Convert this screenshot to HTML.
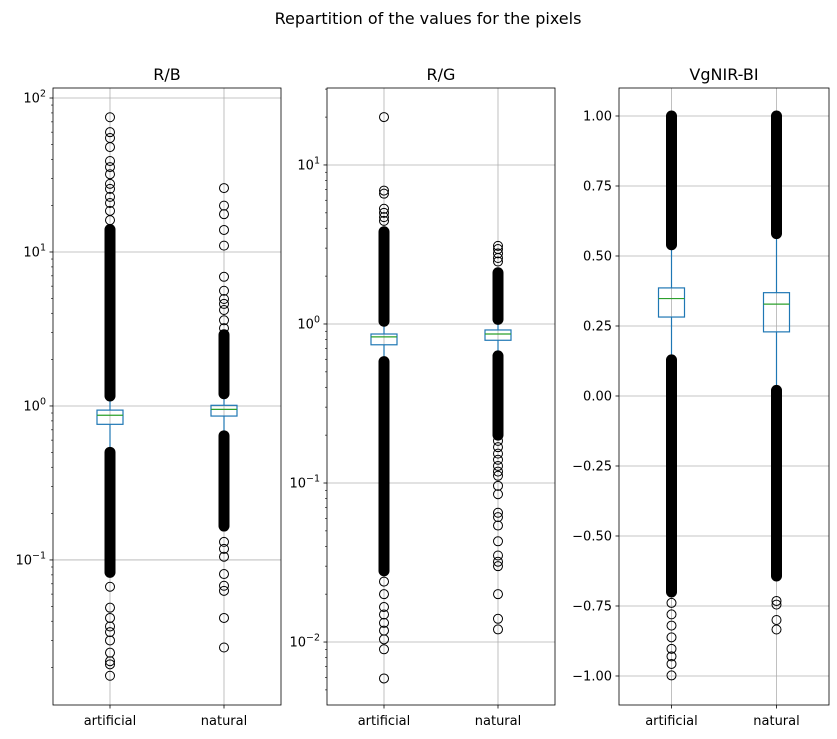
<!DOCTYPE html>
<html><head><meta charset="utf-8">
<style>
html,body{margin:0;padding:0;background:#fff;}
svg{display:block;font-family:"DejaVu Sans","Liberation Sans",sans-serif;}
</style></head>
<body>
<svg id="chart" width="837" height="739" viewBox="0 0 837 739" xmlns="http://www.w3.org/2000/svg">
<text x="428" y="24" font-size="16" text-anchor="middle" fill="#000">Repartition of the values for the pixels</text>
</svg>
<script>
// ---------- data ----------
const categories = ["artificial", "natural"];
// Panel R/B
const rbQ1 = [0.76, 0.86];
const rbMed = [0.87, 0.95];
const rbQ3 = [0.94, 1.01];
const rbBandLo = [[0.083, 0.50], [0.166, 0.64]];
const rbBandHi = [[1.16, 14], [1.2, 2.9]];
const rbOutArt = [75, 60, 55, 48, 39, 35.6, 32, 27.7, 25.7, 22.8, 20.8, 18.5, 16.1, 0.067, 0.049, 0.042, 0.037, 0.034, 0.030, 0.025, 0.022, 0.021, 0.0177];
const rbOutNat = [26, 20, 17.6, 13.9, 11, 6.9, 5.6, 4.95, 4.6, 4.2, 3.6, 3.2, 0.131, 0.118, 0.105, 0.081, 0.068, 0.063, 0.042, 0.027];
// Panel R/G
const rgQ1 = [0.74, 0.79];
const rgMed = [0.83, 0.865];
const rgQ3 = [0.865, 0.917];
const rgBandLo = [[0.028, 0.58], [0.2, 0.63]];
const rgBandHi = [[1.04, 3.8], [1.07, 2.1]];
const rgOutArt = [20, 6.9, 6.6, 5.3, 5.0, 4.7, 4.45, 0.024, 0.020, 0.0166, 0.0149, 0.0132, 0.0118, 0.0104, 0.0090, 0.0059];
const rgOutNat = [3.1, 2.96, 2.78, 2.6, 2.47, 0.184, 0.168, 0.153, 0.140, 0.128, 0.118, 0.111, 0.096, 0.085, 0.065, 0.061, 0.054, 0.043, 0.035, 0.032, 0.030, 0.020, 0.014, 0.012];
// Panel VgNIR-BI
const vgQ1 = [0.282, 0.229];
const vgMed = [0.348, 0.328];
const vgQ3 = [0.386, 0.369];
const vgBandLo = [[-0.70, 0.129], [-0.643, 0.02]];
const vgBandHi = [[0.54, 1.0], [0.58, 1.0]];
const vgOutArt = [-0.739, -0.78, -0.82, -0.862, -0.903, -0.930, -0.957, -0.998];
const vgOutNat = [-0.732, -0.745, -0.80, -0.834];
const vgTicks = [1.00, 0.75, 0.50, 0.25, 0.00, -0.25, -0.50, -0.75, -1.00];
const rbDecades = [-1, 0, 1, 2];
const rgDecades = [-2, -1, 0, 1];

// ---------- drawing ----------
const NS = "http://www.w3.org/2000/svg";
const svg = document.getElementById("chart");
function mk(tag, attrs, parent) {
  const e = document.createElementNS(NS, tag);
  for (const k in attrs) e.setAttribute(k, attrs[k]);
  (parent || svg).appendChild(e);
  return e;
}
const TOP = 88, BOT = 705;

function panel(cfg) {
  const g = mk("g", {});
  
  
  const L = cfg.left, R = cfg.right, W = R - L;
  const xs = i => L + W * (i + 0.5) / 2;
  let ys;
  if (cfg.log) {
    const a = cfg.lmin, b = cfg.lmax;
    ys = v => BOT - (Math.log10(v) - a) / (b - a) * (BOT - TOP);
  } else {
    ys = v => BOT - (v - cfg.min) / (cfg.max - cfg.min) * (BOT - TOP);
  }
  const tickVals = cfg.log ? cfg.decades.map(d => Math.pow(10, d)) : cfg.ticks;
  tickVals.forEach((v, i) => {
    const y = ys(v);
    const gl = mk("line", {x1: L, x2: R, y1: y, y2: y, stroke: "#b0b0b0", "stroke-width": 0.8}, g);
    
    
    mk("line", {x1: L - 3.5, x2: L, y1: y, y2: y, stroke: "#000", "stroke-width": 0.8}, g);
    const t = mk("text", {x: L - 7, y: y + 4.5, "font-size": 13, "text-anchor": "end", fill: "#000"}, g);
    
    
    if (cfg.log) {
      const d = cfg.decades[i];
      const b = mk("tspan", {}, t);
      b.textContent = "10";
      const s = mk("tspan", {dy: -6, "font-size": 9.5}, t);
      s.textContent = d < 0 ? "\u2212" + (-d) : String(d);
    } else {
      t.textContent = v.toFixed(2).replace("-", "\u2212");
    }
  });
  if (cfg.log) {
    for (let d = Math.floor(cfg.lmin); d <= cfg.lmax; d++) {
      for (let m = 2; m <= 9; m++) {
        const v = m * Math.pow(10, d);
        const lv = Math.log10(v);
        if (lv < cfg.lmin || lv > cfg.lmax) continue;
        const y = ys(v);
        mk("line", {x1: L - 2, x2: L, y1: y, y2: y, stroke: "#000", "stroke-width": 0.6}, g);
      }
    }
  }
  categories.forEach((c, i) => {
    const x = xs(i);
    const gl = mk("line", {x1: x, x2: x, y1: TOP, y2: BOT, stroke: "#b0b0b0", "stroke-width": 0.8}, g);
    
    
    mk("line", {x1: x, x2: x, y1: BOT, y2: BOT + 3.5, stroke: "#000", "stroke-width": 0.8}, g);
    const t = mk("text", {x: x, y: BOT + 20, "font-size": 13, "text-anchor": "middle", fill: "#000"}, g);
    
    
    t.textContent = c;
  });
  categories.forEach((c, i) => {
    const x = xs(i);
    const bg = mk("g", {}, g);
    
    
    const lo = cfg.bandLo[i], hi = cfg.bandHi[i];
    mk("line", {x1: x, x2: x, y1: ys(cfg.q1[i]), y2: ys(lo[1]), stroke: "#1f77b4", "stroke-width": 1.2}, bg);
    mk("line", {x1: x, x2: x, y1: ys(cfg.q3[i]), y2: ys(hi[0]), stroke: "#1f77b4", "stroke-width": 1.2}, bg);
    [lo, hi].forEach(b => {
      const y1 = ys(b[1]), y2 = ys(b[0]);
      const r = mk("rect", {x: x - 5.5, y: y1 - 5.5, width: 11, height: (y2 - y1) + 11, rx: 5.5, fill: "#000"}, bg);
      
      
    });
    const bx = mk("rect", {x: x - 13, y: ys(cfg.q3[i]), width: 26, height: ys(cfg.q1[i]) - ys(cfg.q3[i]), fill: "none", stroke: "#1f77b4", "stroke-width": 1.2}, bg);
    
    
    const md = mk("line", {x1: x - 13, x2: x + 13, y1: ys(cfg.med[i]), y2: ys(cfg.med[i]), stroke: "#2ca02c", "stroke-width": 1.2}, bg);
    
    
    cfg.out[i].forEach(v => {
      const o = mk("circle", {cx: x, cy: ys(v), r: 4.5, fill: "none", stroke: "#000", "stroke-width": 1}, bg);
      
      
    });
  });
  const fr = mk("rect", {x: L, y: TOP, width: W, height: BOT - TOP, fill: "none", stroke: "#000", "stroke-width": 0.8}, g);
  
  
  const tt = mk("text", {x: (L + R) / 2, y: TOP - 8, "font-size": 16, "text-anchor": "middle", fill: "#000"}, g);
  
  
  tt.textContent = cfg.title;
}

panel({name: "panel-rb", title: "R/B", left: 53, right: 281, log: true, lmin: -1.942, lmax: 2.065,
  decades: rbDecades, q1: rbQ1, med: rbMed, q3: rbQ3, bandLo: rbBandLo, bandHi: rbBandHi, out: [rbOutArt, rbOutNat]});
panel({name: "panel-rg", title: "R/G", left: 327, right: 555, log: true, lmin: -2.396, lmax: 1.484,
  decades: rgDecades, q1: rgQ1, med: rgMed, q3: rgQ3, bandLo: rgBandLo, bandHi: rgBandHi, out: [rgOutArt, rgOutNat]});
panel({name: "panel-vgnir-bi", title: "VgNIR-BI", left: 619, right: 829, log: false, min: -1.1036, max: 1.1,
  ticks: vgTicks, q1: vgQ1, med: vgMed, q3: vgQ3, bandLo: vgBandLo, bandHi: vgBandHi, out: [vgOutArt, vgOutNat]});
</script>
</body></html>
